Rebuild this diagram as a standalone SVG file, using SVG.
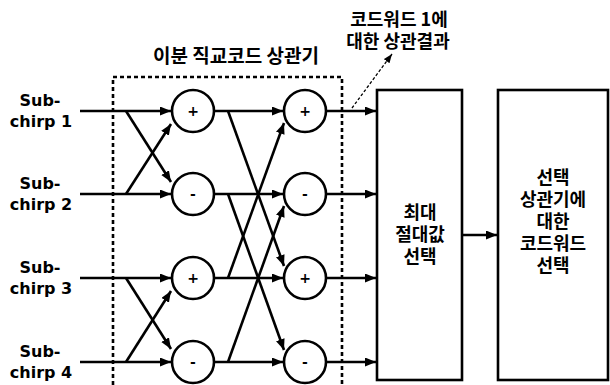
<svg xmlns="http://www.w3.org/2000/svg" width="610" height="385" viewBox="0 0 610 385">
<defs>
<marker id="ah" markerUnits="userSpaceOnUse" markerWidth="12" markerHeight="10" refX="11" refY="4.5" orient="auto"><path d="M0,0 L11,4.5 L0,9 z" fill="#000"/></marker>
<marker id="ahs" markerUnits="userSpaceOnUse" markerWidth="10" markerHeight="8" refX="9" refY="3.5" orient="auto"><path d="M0,0 L9,3.5 L0,7 z" fill="#000"/></marker>
<style>
.ln{fill:none;stroke:#000;stroke-width:2.6}
.arr{marker-end:url(#ah)}
.cir{fill:#fff;stroke:#000;stroke-width:2.6}
.box{fill:#fff;stroke:#000;stroke-width:2.6}
.sig{font-family:"DejaVu Sans",sans-serif;font-weight:bold;font-size:14px;text-anchor:middle}
.en{font-family:"DejaVu Sans",sans-serif;font-weight:bold;font-size:16px;text-anchor:middle}
.ko{font-family:"Noto Sans CJK KR",sans-serif;font-weight:bold;font-size:18px;text-anchor:middle}
.kt{font-family:"Noto Sans CJK KR",sans-serif;font-weight:bold;font-size:19px;text-anchor:middle}
</style>
</defs>
<rect width="610" height="385" fill="#fff"/>
<g id="correlator-frame">
<path d="M113,385 V77 H342 V385" fill="none" stroke="#000" stroke-width="2.6" stroke-dasharray="4,3"/>
<text class="kt" x="236" y="63">이분 직교코드 상관기</text>
</g>
<g id="labels">
<text class="en" x="40" y="106">Sub-</text><text class="en" x="41" y="127">chirp 1</text>
<text class="en" x="40" y="189">Sub-</text><text class="en" x="41" y="210">chirp 2</text>
<text class="en" x="40" y="273">Sub-</text><text class="en" x="41" y="294">chirp 3</text>
<text class="en" x="40" y="357">Sub-</text><text class="en" x="41" y="378">chirp 4</text>
</g>
<g id="connectors">
<path class="ln arr" d="M80,111 H171"/>
<path class="ln arr" d="M80,194 H171"/>
<path class="ln arr" d="M80,278 H171"/>
<path class="ln arr" d="M80,362 H171"/>
<path class="ln arr" d="M126,111 L171,182"/>
<path class="ln arr" d="M126,194 L171,124"/>
<path class="ln arr" d="M126,278 L171,349"/>
<path class="ln arr" d="M126,362 L171,291"/>
<path class="ln arr" d="M214,111 H283"/>
<path class="ln arr" d="M214,194 H283"/>
<path class="ln arr" d="M214,278 H283"/>
<path class="ln arr" d="M214,362 H283"/>
<path class="ln arr" d="M228,111 L284,266"/>
<path class="ln arr" d="M228,194 L284,350"/>
<path class="ln arr" d="M228,278 L284,123"/>
<path class="ln arr" d="M228,362 L284,206"/>
<path class="ln arr" d="M326,111 H376"/>
<path class="ln arr" d="M326,194 H376"/>
<path class="ln arr" d="M326,278 H376"/>
<path class="ln arr" d="M326,362 H376"/>
<path class="ln arr" d="M462,235 H497"/>
<path d="M352,108 L392,54" fill="none" stroke="#000" stroke-width="1.3" stroke-dasharray="3,2" marker-end="url(#ahs)"/>
</g>
<g id="c11"><circle class="cir" cx="193" cy="111" r="21"/><text class="sig" x="193" y="116">+</text></g>
<g id="c12"><circle class="cir" cx="193" cy="194" r="21"/><text class="sig" x="193" y="199">-</text></g>
<g id="c13"><circle class="cir" cx="193" cy="278" r="21"/><text class="sig" x="193" y="283">+</text></g>
<g id="c14"><circle class="cir" cx="193" cy="362" r="21"/><text class="sig" x="193" y="367">-</text></g>
<g id="c21"><circle class="cir" cx="305" cy="111" r="21"/><text class="sig" x="305" y="116">+</text></g>
<g id="c22"><circle class="cir" cx="305" cy="194" r="21"/><text class="sig" x="305" y="199">-</text></g>
<g id="c23"><circle class="cir" cx="305" cy="278" r="21"/><text class="sig" x="305" y="283">+</text></g>
<g id="c24"><circle class="cir" cx="305" cy="362" r="21"/><text class="sig" x="305" y="367">-</text></g>
<g id="annotation">
<text class="ko" x="399" y="26">코드워드 1에</text>
<text class="ko" x="398" y="48">대한 상관결과</text>
</g>
<g id="max-select">
<rect class="box" x="377" y="90" width="85" height="290"/>
<text class="ko" x="420" y="219">최대</text>
<text class="ko" x="420" y="241">절대값</text>
<text class="ko" x="420" y="263">선택</text>
</g>
<g id="codeword-select">
<rect class="box" x="498" y="90" width="110" height="290"/>
<text class="ko" x="553" y="184">선택</text>
<text class="ko" x="553" y="206">상관기에</text>
<text class="ko" x="553" y="228">대한</text>
<text class="ko" x="553" y="250">코드워드</text>
<text class="ko" x="553" y="272">선택</text>
</g>
</svg>
